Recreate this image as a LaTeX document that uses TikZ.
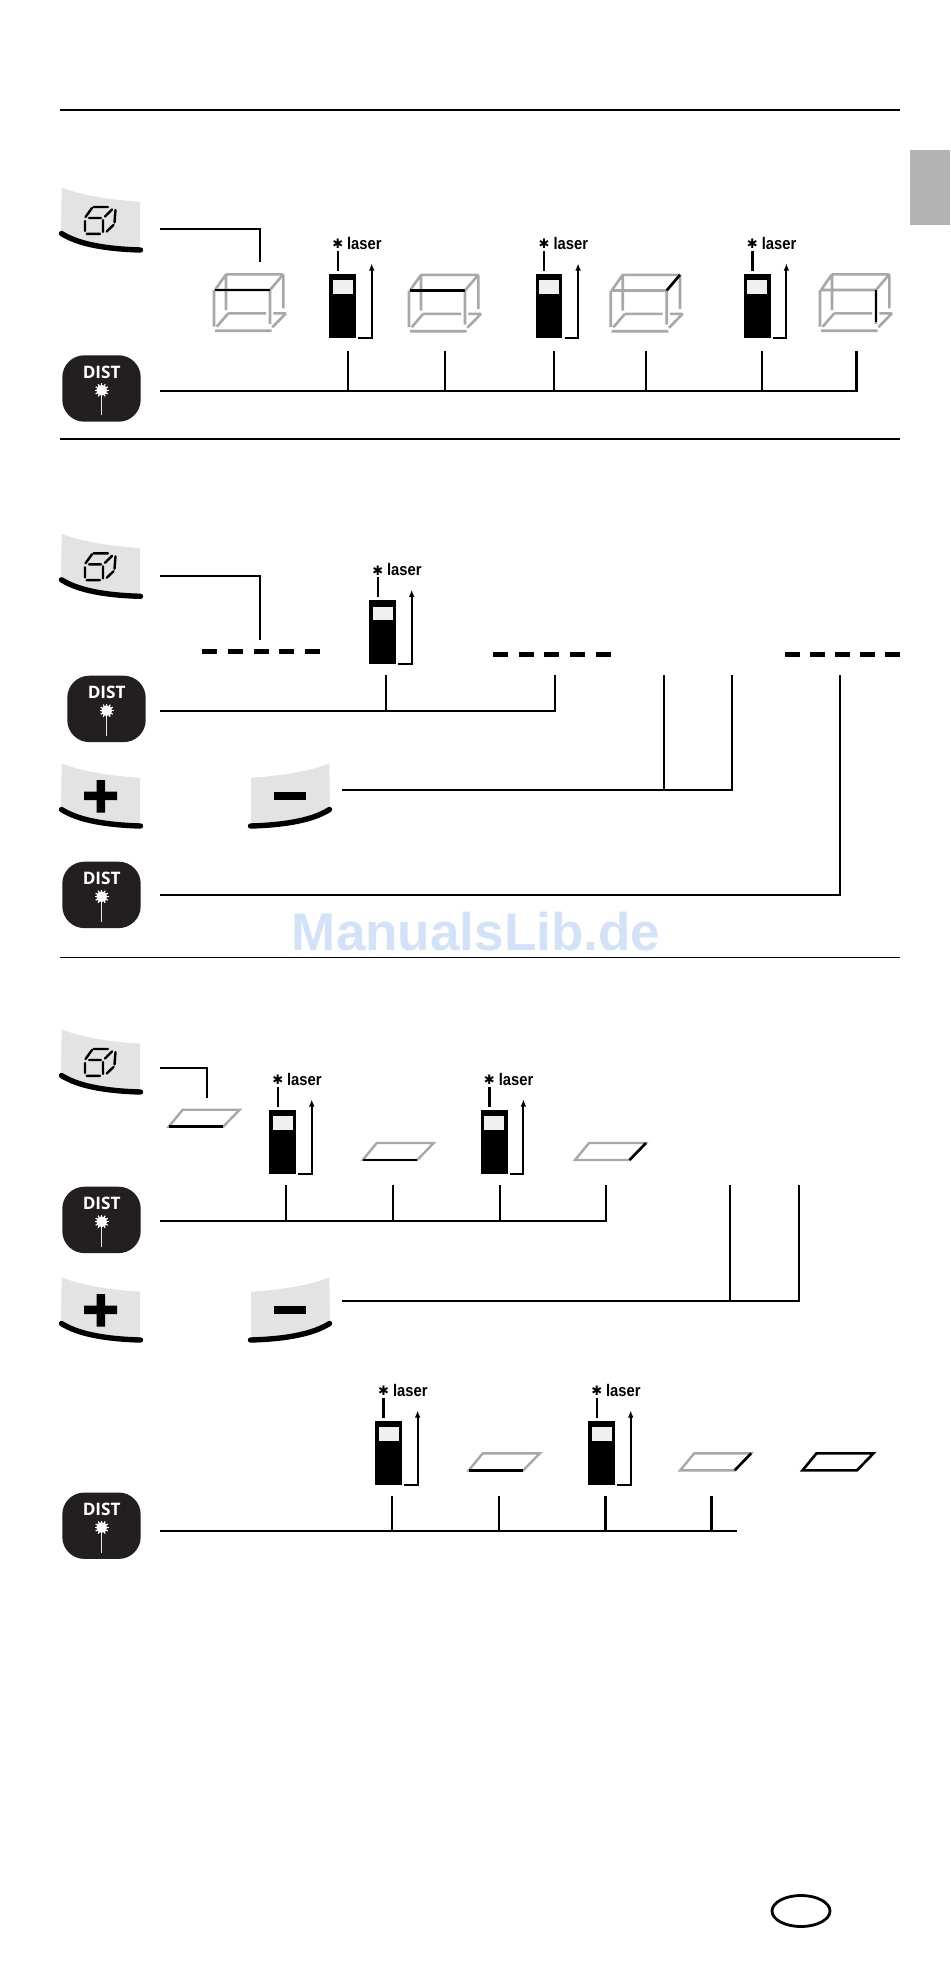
\documentclass[tikz,border=0pt]{standalone}
\usepackage{fontspec}
\setmainfont{Liberation Sans}
\newfontfamily\lasfont[FakeStretch=0.88]{Liberation Sans}
\newfontfamily\distfont{Open Sans}
\newfontfamily\dejavu{DejaVu Sans}
\usetikzlibrary{arrows.meta,calc}
\definecolor{keygrey}{HTML}{E3E3E3}
\definecolor{keyblack}{HTML}{231F20}
\definecolor{cubegrey}{HTML}{A8A8A8}
\definecolor{tabgrey}{HTML}{B3B3B3}
\definecolor{markblue}{HTML}{D2E3F9}
\definecolor{winwhite}{HTML}{F0F0F0}
\tikzset{
  conn/.style={line width=1.15pt,black,line cap=rect},
  rulethin/.style={line width=0.55pt,black},
  gl/.style={line width=1.3pt,cubegrey},
  hl/.style={line width=1.3pt,black},
  dashpiece/.style={line width=2.5pt,black},
  keybase/.pic={
    \fill[keygrey] (1.7,0.3) .. controls (20,8) and (50,13) .. (80,14.7) -- (80,61)
       .. controls (50,60) and (20,56) .. (1,46) -- cycle;
    \draw[line width=2.7pt,black,line cap=round] (1.5,46.5) .. controls (18,57) and (45,62) .. (80.5,63);
  },
  cubebtn/.pic={
    \pic {keybase};
    \draw[line width=1.2pt,black,line cap=round]
      (25.5,30) -- (32,21)
      (33.5,20) -- (48,20)
      (45,29.5) -- (52,22.5)
      (55.5,23) -- (54.5,35.5)
      (46.7,44.5) -- (53.5,38)
      (26.7,46.8) -- (40,46.8)
      (25,34) -- (25,44)
      (43,33) -- (43,45)
      (29,31) -- (41,31);
  },
  distbtn/.pic={
    \fill[keyblack,rounded corners=11pt] (0,0) rectangle (78.4,66.4);
    \node[text=white,inner sep=0pt,font=\distfont\bfseries\fontsize{8.6}{9}\selectfont] (lab) at (39.4,17) {DIST};
    \draw[line width=0.75pt,keygrey!80!white] (39.4,36) -- (39.4,60);
    \fill[white] (39.4,35) circle[radius=5.4];
    \foreach \a in {0,30,...,330} \draw[white,line width=0.6pt] (39.4,35) -- +(\a:7);
  },
  device/.pic={
    \fill[black] (0,0) rectangle (26.7,63.7);
    \fill[winwhite] (3.4,6.3) rectangle (23.4,19.7);
    \draw[line width=1.15pt] (8.4,-23) -- (8.4,-3);
    \draw[line width=1.05pt,-{Latex[length=3.6pt,width=2.8pt]}] (29,64) -- (42.4,64) -- (42.4,-10.7);
    \node[inner sep=0pt,font=\dejavu\fontsize{6.5}{7}\selectfont] (ast) at (8.4,-30) {✱};
    \node[inner sep=0pt,anchor=base west,font=\lasfont\bfseries\fontsize{8.4}{9}\selectfont] (las) at (17.4,-24.5) {laser};
  },
  cubebox/.pic={
    \draw[gl] (1,0) -- (56,0) (0,0) -- (0,36.7) (1,40.7) -- (57.7,40.7) (56,0) -- (56,34)
      (1,0) -- (12,-15.7) (12,-15.7) -- (69.3,-15.7) (56,0) -- (69.3,-15.7)
      (12,-15.7) -- (12,20) (69.3,-15.7) -- (69.3,18.3)
      (14.3,23.3) -- (52,23.3) (59.3,23.3) -- (72,23.3)
      (2.7,36.7) -- (14.3,23.3) (58.3,37.3) -- (72,23.3);
  },
  plate/.pic={
    \draw[line width=1.2pt,cubegrey,line join=miter] (0,0) -- (54.5,0) -- (71,-17) -- (14,-17) -- cycle;
  },
  plateblack/.pic={
    \draw[line width=1.3pt,black,line join=miter] (0,0) -- (54.5,0) -- (71,-17) -- (14,-17) -- cycle;
  },
  dashrow/.pic={
    \foreach \i in {0,1,2,3,4} \draw[dashpiece] ({\i*25.8},0) -- ({\i*25.8+15},0);
  },
}
\begin{document}
\begin{tikzpicture}[x=0.5pt,y=-0.5pt]
\useasboundingbox (0,0) rectangle (950,1970);
\fill[white] (0,0) rectangle (950,1970);
\node[inner sep=0pt,anchor=base,text=markblue,font=\bfseries\fontsize{26.5}{30}\selectfont] (mark) at (476,950) {ManualsLib.de};
\fill[tabgrey] (910,150) rectangle (950,225);

% rules
\coordinate (r1a) at (60,110); \coordinate (r1b) at (900,110);
\coordinate (r2a) at (60,439); \coordinate (r2b) at (900,439);
\coordinate (r3a) at (60,957.5); \coordinate (r3b) at (900,957.5);
\draw[line width=0.85pt] (r1a) -- (r1b);
\draw[rulethin] (r2a) -- (r2b);
\draw[rulethin] (r3a) -- (r3b);

% section 1
\pic (k1) at (60,187) {cubebtn};
\pic (d1) at (62.3,355.3) {distbtn};
\pic (m1) at (329.3,274) {device};
\pic (m2) at (535.7,274) {device};
\pic (m3) at (744,274) {device};
\pic at (214,290) {cubebox};
\pic at (409,290.5) {cubebox};
\pic at (610.7,290.5) {cubebox};
\pic at (820,290) {cubebox};
\draw[hl] (215,290) -- (270,290);
\draw[hl] (410,290.5) -- (465,290.5);
\draw[hl] (666.7,290.5) -- (680,274.8);
\draw[hl] (876,290) -- (876,322);
\coordinate (a1) at (161,229); \coordinate (a2) at (260,229); \coordinate (a3) at (260,260.7);
\draw[conn] (a1) -- (a2) -- (a3);
\coordinate (b1) at (161,390.7); \coordinate (b2) at (856.5,390.7); \coordinate (b3) at (856.5,351.7);
\draw[conn] (b1) -- (b2) -- (b3);
\foreach \n/\x in {1/347.7,2/445,3/553.7,4/646,5/761.7} {
  \coordinate (t\n) at (\x,351.7);
  \draw[conn] (t\n) -- (t\n |- b1);
}

% section 2
\pic (k2) at (60,533.3) {cubebtn};
\pic (d2) at (67.3,675.7) {distbtn};
\pic (p2) at (60,763) {keybase};
\pic[xscale=-1] (n2) at (331,763) {keybase};
\fill (84,791.7) rectangle (117,800) (96.7,780) rectangle (105,812.7);
\fill (274,791.7) rectangle (306,800);
\pic (d3) at (62.3,861.7) {distbtn};
\pic (m4) at (369.3,600.3) {device};
\pic at (202,651.3) {dashrow};
\pic at (492.7,654) {dashrow};
\foreach \i in {0,1,2,3,4} \draw[dashpiece] ({785+\i*25},654) -- ({800+\i*25},654);
\coordinate (c1) at (161,576); \coordinate (c2) at (260,576); \coordinate (c3) at (260,639.3);
\draw[conn] (c1) -- (c2) -- (c3);
\coordinate (e1) at (161,711); \coordinate (e2) at (555,711); \coordinate (e3) at (555,676); \coordinate (e4) at (386,676);
\draw[conn] (e1) -- (e2) -- (e3);
\draw[conn] (e4) -- (e4 |- e1);
\coordinate (f1) at (343,790); \coordinate (f2) at (732,790); \coordinate (f3) at (732,676); \coordinate (f4) at (664,676);
\draw[conn] (f1) -- (f2) -- (f3);
\draw[conn] (f4) -- (f4 |- f1);
\coordinate (g1) at (161,895); \coordinate (g2) at (840,895); \coordinate (g3) at (840,676);
\draw[conn] (g1) -- (g2) -- (g3);

% section 3
\pic (k3) at (60,1029) {cubebtn};
\pic (d4) at (62.3,1186.7) {distbtn};
\pic (p3) at (60,1277) {keybase};
\pic[xscale=-1] (n3) at (331,1277) {keybase};
\fill (84,1305.7) rectangle (117,1314) (96.7,1294) rectangle (105,1326.7);
\fill (274,1305.7) rectangle (306,1314);
\pic (m5) at (269.3,1110) {device};
\pic (m6) at (481,1110) {device};
\pic at (168.7,1126.7) {plate};
\pic at (362.7,1160) {plate};
\pic at (575,1160) {plate};
\draw[hl] (168.7,1126.7) -- (223.2,1126.7);
\draw[hl] (362.7,1160) -- (417.2,1160);
\draw[hl] (629.5,1160) -- (646,1143);
\coordinate (h1) at (161,1067.7); \coordinate (h2) at (207.3,1067.7); \coordinate (h3) at (207.3,1097.3);
\draw[conn] (h1) -- (h2) -- (h3);
\coordinate (i1) at (161,1221); \coordinate (i2) at (606,1221); \coordinate (i3) at (606,1186);
\draw[conn] (i1) -- (i2) -- (i3);
\foreach \n/\x in {1/286,2/392.7,3/500} {
  \coordinate (u\n) at (\x,1186);
  \draw[conn] (u\n) -- (u\n |- i1);
}
\coordinate (j1) at (343,1301); \coordinate (j2) at (799,1301); \coordinate (j3) at (799,1186); \coordinate (j4) at (730,1186);
\draw[conn] (j1) -- (j2) -- (j3);
\draw[conn] (j4) -- (j4 |- j1);

% section 4
\pic (m7) at (375.2,1421) {device};
\pic (m8) at (588.3,1421) {device};
\pic (d5) at (62.3,1492.5) {distbtn};
\pic at (468.8,1470.3) {plate};
\pic at (680.2,1470.3) {plate};
\pic at (802.5,1470.3) {plateblack};
\draw[hl] (468.8,1470.3) -- (523.3,1470.3);
\draw[hl] (734.7,1470.3) -- (751.2,1453.3);
\coordinate (v1) at (161,1530.7); \coordinate (v2) at (736,1530.7);
\draw[conn] (v1) -- (v2);
\foreach \n/\x in {1/391.7,2/498.8,3/605.5,4/711.6} {
  \coordinate (w\n) at (\x,1497);
  \draw[conn] (w\n) -- (w\n |- v1);
}

% oval
\draw[line width=1.4pt] (801,1911) ellipse[x radius=29,y radius=15.5];
\end{tikzpicture}
\end{document}
